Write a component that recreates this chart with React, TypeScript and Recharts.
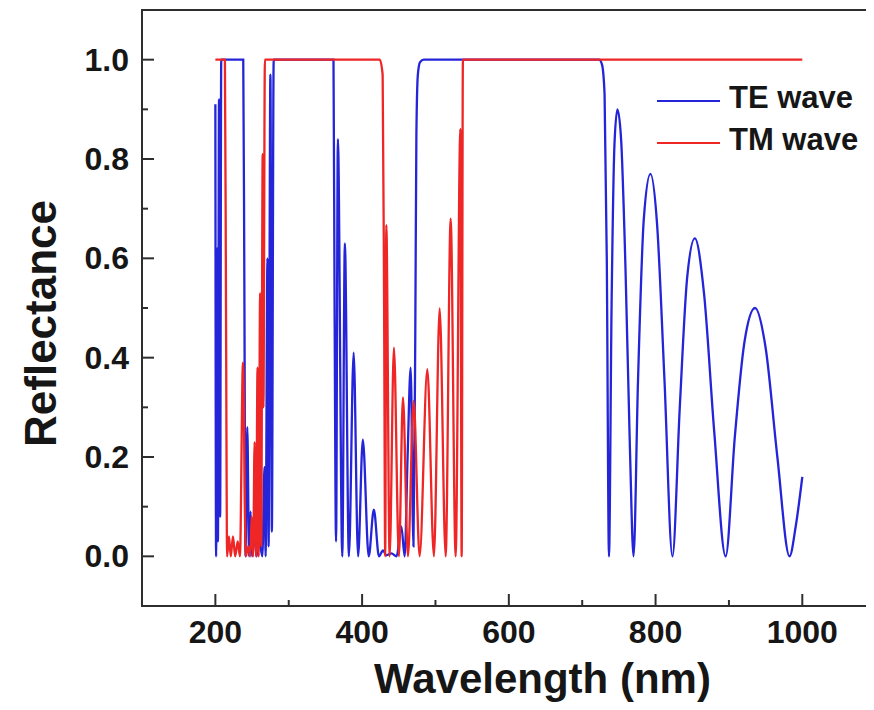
import React from 'react';
import { LineChart, Line, XAxis, YAxis, Legend, ReferenceArea } from 'recharts';

// ---- data ----
const teWavelength = [
  200, 201, 202.5, 203.5, 205, 206.5, 208, 238, 239.5, 241, 243.5, 246, 248, 250, 253, 256, 260, 264, 267, 268.5,
  271, 272.5, 275, 277, 279.5, 361, 362.5, 364.5, 367, 373, 376.5, 382, 388.5, 394.5, 401, 409, 416, 423, 428.5,
  433, 440, 447, 453.5, 458, 462, 466.2, 470, 472.5, 474, 476, 479, 484, 723, 727, 730.5, 733.5, 736.5, 740, 744,
  748, 753, 759, 765, 770, 776, 784, 793, 802, 812, 823, 833, 843, 853.5, 866, 880, 895.5, 908, 921, 935.6, 950,
  966, 982.6, 991, 1000,
];
const teReflectance = [
  0.91, 0.0, 0.62, 0.03, 0.92, 0.08, 1.0, 1.0, 0.55, 0.0, 0.26, 0.0, 0.09, 0.0, 0.05, 0.0, 0.03, 0.0, 0.18, 0.0,
  0.6, 0.02, 0.97, 0.05, 1.0, 1.0, 0.5, 0.03, 0.84, 0.0, 0.63, 0.0, 0.41, 0.0, 0.235, 0.0, 0.094, 0.0, 0.012,
  0.002, 0.006, 0.0, 0.06, 0.0, 0.2, 0.38, 0.02, 0.45, 0.85, 0.97, 0.995, 1.0, 1.0, 0.99, 0.93, 0.6, 0.0, 0.5, 0.83,
  0.9, 0.84, 0.58, 0.22, 0.0, 0.35, 0.68, 0.77, 0.67, 0.36, 0.0, 0.3, 0.56, 0.64, 0.53, 0.25, 0.0, 0.24, 0.43, 0.5, 0.42,
  0.2, 0.0, 0.06, 0.16,
];

const tmWavelength = [
  200, 213, 214.5, 216, 218.5, 221, 224, 227, 230.5, 233.5, 237.6, 241.5, 245, 247.5, 249.5, 251.5, 253.5, 255.5,
  257.5, 259, 261, 262.5, 264.5, 265.5, 267.5, 424, 428, 430, 431.5, 433, 437.5, 443.4, 450.2, 455.7, 462.5, 470.3,
  478.4, 488.9, 497.9, 505.7, 513.9, 520.7, 527.5, 533.9, 535.7, 537.4, 1000,
];
const tmReflectance = [
  1.0, 1.0, 0.5, 0.0, 0.04, 0.0, 0.04, 0.0, 0.03, 0.0, 0.39, 0.0, 0.02, 0.0, 0.08, 0.0, 0.23, 0.0,
  0.38, 0.0, 0.53, 0.02, 0.81, 0.3, 1.0, 1.0, 0.97, 0.5, 0.0, 0.667, 0.0, 0.42, 0.0, 0.32, 0.0, 0.313,
  0.0, 0.377, 0.0, 0.499, 0.0, 0.68, 0.0, 0.86, 0.0, 1.0, 1.0,
];

const xTicks = [200, 300, 400, 500, 600, 700, 800, 900, 1000];
const xMajorTicks = [200, 400, 600, 800, 1000];
const yTicks = [0, 0.1, 0.2, 0.3, 0.4, 0.5, 0.6, 0.7, 0.8, 0.9, 1.0];
const yMajorTicks = [0, 0.2, 0.4, 0.6, 0.8, 1.0];

const seriesNames = ['TE wave', 'TM wave'];
const xTitle = 'Wavelength (nm)';
const yTitle = 'Reflectance';

const teData = teWavelength.map((w, i) => ({ w, r: teReflectance[i] }));
const tmData = tmWavelength.map((w, i) => ({ w, r: tmReflectance[i] }));

const BLUE = '#2424d8';
const RED = '#ee2626';
const AXIS = '#2e2e2e';
const TEXT = '#161616';
const FONT = '"Liberation Sans", Arial, Helvetica, sans-serif';

const XTick = (props: any) => {
  const { x, y, payload } = props;
  const major = xMajorTicks.includes(payload.value);
  return (
    <g>
      <line x1={x} x2={x} y1={y} y2={y - (major ? 12 : 6)} stroke={AXIS} strokeWidth={2} />
      {major && (
        <text x={x} y={y + 37} textAnchor="middle" fontSize={32} fontWeight="bold" fontFamily={FONT} fill={TEXT}>
          {payload.value}
        </text>
      )}
    </g>
  );
};

const YTick = (props: any) => {
  const { x, y, payload } = props;
  const major = yMajorTicks.some((v) => Math.abs(v - payload.value) < 1e-6);
  return (
    <g>
      <line x1={x} x2={x + (major ? 12 : 6)} y1={y} y2={y} stroke={AXIS} strokeWidth={2} />
      {major && (
        <text x={x - 13} y={y + 11} textAnchor="end" fontSize={32} fontWeight="bold" fontFamily={FONT} fill={TEXT}>
          {Number(payload.value).toFixed(1)}
        </text>
      )}
    </g>
  );
};

const LegendContent = () => (
  <svg width={230} height={80} style={{ display: 'block' }}>
    <line x1={17} x2={80} y1={21} y2={21} stroke={BLUE} strokeWidth={2.2} />
    <text x={89} y={27.5} fontSize={31} fontWeight="bold" fontFamily={FONT} fill={TEXT}>
      {seriesNames[0]}
    </text>
    <line x1={17} x2={80} y1={63} y2={63} stroke={RED} strokeWidth={2.2} />
    <text x={89} y={69.5} fontSize={31} fontWeight="bold" fontFamily={FONT} fill={TEXT}>
      {seriesNames[1]}
    </text>
  </svg>
);

export default function App() {
  return (
    <div style={{ width: 866, height: 702, background: '#fff' }}>
      <LineChart width={866} height={702} margin={{ top: 2, right: 2, bottom: 4, left: 0 }}>
        <XAxis
          type="number"
          dataKey="w"
          domain={[100, 1095]}
          ticks={xTicks}
          interval={0}
          allowDataOverflow
          height={100}
          tickSize={0}
          tickMargin={0}
          tickLine={false}
          axisLine={{ stroke: AXIS, strokeWidth: 2 }}
          tick={<XTick />}
          label={() => (
            <text x={534.5} y={685} textAnchor="middle" fontSize={42} fontWeight="bold" fontFamily={FONT} fill={TEXT}>
              {xTitle}
            </text>
          )}
        />
        <YAxis
          type="number"
          domain={[-0.1, 1.1]}
          ticks={yTicks}
          interval={0}
          allowDataOverflow
          width={134}
          tickSize={0}
          tickMargin={0}
          tickLine={false}
          axisLine={{ stroke: AXIS, strokeWidth: 2 }}
          tick={<YTick />}
          label={() => (
            <text
              x={47.7}
              y={315.5}
              transform="rotate(-90, 47.7, 315.5)"
              textAnchor="middle"
              fontSize={44}
              fontWeight="bold"
              fontFamily={FONT}
              fill={TEXT}
            >
              {yTitle}
            </text>
          )}
        />
        <ReferenceArea x1={100} x2={1095} y1={-0.1} y2={1.1} fill="none" stroke={AXIS} strokeWidth={2} />
        <Line
          data={teData}
          dataKey="r"
          name={seriesNames[0]}
          type="monotone"
          stroke={BLUE}
          strokeWidth={2.3}
          dot={false}
          isAnimationActive={false}
        />
        <Line
          data={tmData}
          dataKey="r"
          name={seriesNames[1]}
          type="monotone"
          stroke={RED}
          strokeWidth={2.3}
          dot={false}
          isAnimationActive={false}
        />
        <Legend
          layout="horizontal"
          verticalAlign="middle"
          align="center"
          wrapperStyle={{ position: 'absolute', left: 632, top: 72, width: 230, height: 80 }}
          content={LegendContent}
        />
      </LineChart>
    </div>
  );
}
